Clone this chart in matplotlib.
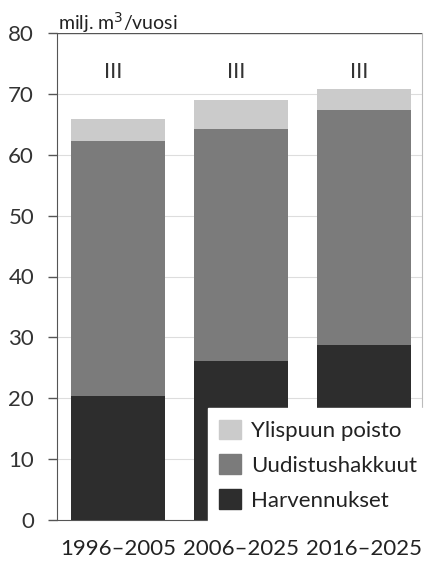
import matplotlib.pyplot as plt
import matplotlib.patches as mpatches
import numpy as np

periods = ['1996–2005', '2006–2025', '2016–2025']
harvennukset = [20.4, 26.1, 28.8]
uudistus = [41.9, 38.2, 38.6]
ylispuu = [3.6, 4.7, 3.4]
top_labels = ['III', 'III', 'III']

COLORS = {'Harvennukset': '#2d2d2d', 'Uudistushakkuut': '#7b7b7b', 'Ylispuun poisto': '#cbcbcb'}

plt.rcParams['font.family'] = ['Lato', 'DejaVu Sans']

fig = plt.figure(figsize=(4.28, 5.63), dpi=100)
ax = fig.add_axes([57 / 428, 1 - 520 / 563, 365 / 428, 487 / 563])

x = np.arange(len(periods))
w = 0.765
h = np.array(harvennukset)
u = np.array(uudistus)
y = np.array(ylispuu)

ax.bar(x, h, w, color=COLORS['Harvennukset'], zorder=3)
ax.bar(x, u, w, bottom=h, color=COLORS['Uudistushakkuut'], zorder=3)
ax.bar(x, y, w, bottom=h + u, color=COLORS['Ylispuun poisto'], zorder=3)

for xi, lab in zip(x, top_labels):
    ax.text(xi - 0.04, 73.6, lab, ha='center', va='center', fontsize=16, color='#333333')

ax.set_xlim(-0.5, 2.47)
ax.set_ylim(0, 80)
ax.set_yticks(range(0, 81, 10))
ax.set_xticks(x)
ax.set_xticklabels(periods)
ax.tick_params(axis='x', length=0, pad=14, labelsize=16, colors='#222222')
ax.tick_params(axis='y', length=6.5, width=1, pad=10, labelsize=16, colors='#555555',
               labelcolor='#333333')

for yy in range(10, 80, 10):
    ax.axhline(yy, color='#dddddd', lw=0.8, zorder=1)
ax.axhline(80, color='#555555', lw=1, zorder=1)

ax.spines['left'].set_color('#555555')
ax.spines['bottom'].set_color('#555555')
ax.spines['right'].set_color('#bbbbbb')
ax.spines['top'].set_visible(False)

ax.text(-0.49, 80.6, 'milj. m$^3$/vuosi', ha='left', va='baseline', fontsize=14, color='#222222')

handles = [mpatches.Patch(color=COLORS[k], label=k)
           for k in ['Ylispuun poisto', 'Uudistushakkuut', 'Harvennukset']]
leg = fig.legend(handles=handles, loc='lower right', bbox_to_anchor=(1.0, 1 - 522 / 563),
                 fontsize=16, frameon=True, fancybox=False, framealpha=1,
                 handlelength=1.0, handleheight=1.0, handletextpad=0.45,
                 labelspacing=0.6, borderpad=0.5, borderaxespad=0)
leg.get_frame().set_edgecolor('white')
leg.set_zorder(5)
for t in leg.get_texts():
    t.set_color('#222222')

fig.savefig('out.png', dpi=100)
